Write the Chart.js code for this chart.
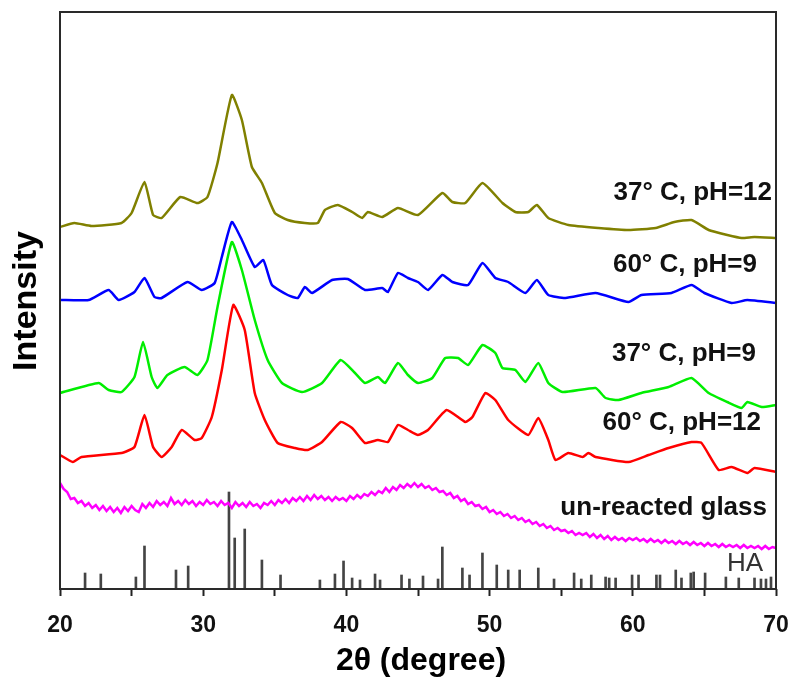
<!DOCTYPE html>
<html>
<head>
<meta charset="utf-8">
<script src="https://cdn.jsdelivr.net/npm/chart.js@4.4.1/dist/chart.umd.min.js"></script>
<style>
  html, body { margin: 0; padding: 0; background: #fff; }
  #wrap { width: 800px; height: 690px; }
</style>
</head>
<body>
<div id="wrap"><canvas id="xrd"></canvas></div>
<script>
// 2-theta positions and intensities (arbitrary units, offset stacks)
const olive37pH12Angle = [20, 21, 22.2, 24.3, 25, 25.9, 26.5, 27.1, 28.4, 29.6, 30.3, 31, 32, 32.7, 33.4, 34.1, 35, 35.9, 37.1, 38, 38.5, 39.4, 40.4, 41.1, 41.5, 42.5, 43.6, 45, 46.7, 47.4, 48.3, 49.5, 50.9, 51.8, 52.7, 53.3, 54.1, 55.5, 57.6, 59.7, 61.6, 62.9, 64.1, 65.3, 66.6, 67.6, 68.5, 70];
const olive37pH12 = [362, 366, 363, 366, 376, 407, 374, 371, 392, 386, 392, 426, 494, 469, 422, 406, 376, 369, 366, 366, 379, 384, 377, 371, 377, 372, 381, 374, 396, 387, 386, 406, 386, 377, 377, 384, 371, 364, 361, 359, 361, 367, 369, 359, 354, 351, 352, 351];

const blue60pH9Angle = [20, 22, 23.4, 24.1, 25.2, 25.9, 26.6, 27.1, 28.9, 29.9, 30.8, 31.3, 32, 32.7, 33.6, 34.2, 34.8, 35.9, 36.6, 37.1, 37.6, 39, 40.1, 41.3, 42.5, 42.9, 43.6, 44.3, 45, 45.7, 46.7, 47.4, 48.5, 49.5, 50.4, 51.3, 52.5, 53.3, 54.1, 55.3, 57.4, 59.7, 60.6, 62.7, 64.1, 65, 66.9, 68, 70];
const blue60pH9 = [289, 289, 299, 289, 297, 311, 292, 291, 307, 299, 306, 332, 367, 349, 322, 329, 304, 294, 291, 302, 296, 309, 310, 299, 301, 297, 316, 311, 307, 299, 314, 307, 304, 326, 311, 307, 296, 309, 294, 291, 296, 287, 294, 296, 304, 296, 286, 289, 286];

const green37pH9Angle = [20, 22.7, 23.4, 24.3, 25.2, 25.8, 26.4, 26.8, 27.5, 28.7, 29.6, 30.3, 31, 32, 32.7, 33.6, 34.5, 35.5, 36.9, 38.3, 39.6, 40.6, 41.3, 42.2, 42.7, 43.6, 44.3, 45, 46, 46.9, 47.8, 48.5, 49.5, 50.4, 50.9, 51.8, 52.5, 53.4, 54.1, 55.1, 57.4, 58.1, 59, 60.6, 62.5, 64.1, 65.3, 66.6, 67.6, 68, 69, 70];
const green37pH9 = [196, 206, 199, 197, 212, 247, 212, 201, 214, 222, 214, 229, 282, 347, 319, 269, 229, 206, 197, 206, 229, 216, 206, 212, 206, 226, 214, 206, 211, 231, 231, 224, 244, 236, 221, 219, 207, 226, 206, 197, 201, 191, 189, 196, 202, 211, 196, 187, 181, 187, 182, 184];

const red60pH12Angle = [20, 20.9, 21.5, 24.3, 25.2, 25.9, 26.5, 27.1, 27.8, 28.5, 29.4, 29.9, 30.6, 31.3, 32.1, 32.9, 33.6, 34.3, 35.2, 36.4, 37.3, 38.3, 39.6, 40.4, 41.3, 42.2, 42.9, 43.6, 44.3, 45, 45.7, 47, 48.3, 48.8, 49.7, 50.4, 51.3, 52.7, 53.4, 54.1, 54.6, 55.5, 56.5, 56.9, 57.4, 59.7, 61.1, 62.5, 64.1, 64.8, 66, 66.9, 68, 68.5, 70];
const red60pH12 = [134, 127, 132, 136, 142, 174, 142, 132, 142, 159, 149, 151, 172, 219, 284, 259, 196, 169, 146, 141, 139, 147, 167, 161, 146, 149, 147, 164, 159, 154, 159, 179, 167, 172, 196, 189, 169, 154, 171, 149, 129, 136, 132, 136, 132, 127, 134, 141, 147, 146, 119, 122, 116, 121, 117];

// un-reacted glass: scan every 0.25 degree from 20 to 70
const glassStart = 20;
const glassStep = 0.25;
const glass = [106, 100, 97, 90, 91, 86, 88, 83, 86, 81, 84, 79, 83, 78, 82, 77, 81, 76, 82, 78,
  83, 79, 77, 85, 81, 86, 82, 88, 84, 87, 83, 91, 85, 88, 84, 89, 85, 88, 83, 87,
  84, 89, 85, 87, 83, 88, 84, 86, 81, 87, 83, 86, 82, 87, 83, 85, 81, 86, 84, 88,
  84, 89, 86, 90, 86, 91, 88, 92, 88, 93, 89, 94, 90, 93, 89, 92, 88, 92, 89, 91,
  88, 93, 90, 94, 91, 95, 93, 97, 94, 98, 96, 101, 97, 102, 99, 104, 101, 105, 102, 106,
  102, 105, 101, 103, 99, 101, 97, 98, 94, 96, 91, 93, 88, 90, 85, 87, 83, 84, 80, 82,
  77, 79, 75, 77, 73, 75, 71, 73, 69, 71, 67, 69, 65, 67, 63, 65, 61, 63, 59, 61,
  58, 59, 56, 58, 54, 56, 54, 56, 52, 55, 51, 54, 50, 53, 49, 52, 49, 51, 48, 51,
  49, 51, 48, 50, 47, 50, 47, 49, 46, 49, 46, 48, 45, 48, 45, 47, 44, 47, 44, 46,
  43, 46, 43, 45, 42, 45, 42, 44, 42, 44, 41, 44, 41, 43, 41, 43, 40, 43, 40, 42, 41];

// HA reference pattern (stick positions and relative heights)
const haAngle = [21.75, 22.85, 25.3, 25.9, 28.1, 28.95, 31.8, 32.2, 32.9, 34.1, 35.4, 38.15, 39.2, 39.8, 40.4, 40.95, 42.0, 42.35, 43.85, 44.4, 45.35, 46.4, 46.7, 48.1, 48.6, 49.5, 50.5, 51.3, 52.1, 53.4, 54.5, 55.9, 56.4, 57.1, 58.1, 58.35, 58.8, 59.95, 60.4, 61.65, 61.9, 63.0, 63.4, 64.05, 64.25, 65.05, 66.5, 67.4, 68.5, 68.95, 69.3, 69.65];
const haHeight = [16, 15, 12, 43, 19, 23, 97, 51, 60, 29, 14, 9, 15, 28, 11, 9, 15, 9, 14, 10, 13, 10, 42, 21, 14, 36, 24, 19, 19, 21, 10, 16, 10, 14, 12, 11, 11, 14, 14, 14, 14, 19, 11, 16, 17, 16, 12, 11, 11, 10, 10, 12];

const seriesNames = ['37° C, pH=12', '60° C, pH=9', '37° C, pH=9', '60° C, pH=12', 'un-reacted glass', 'HA'];
const seriesColors = ['#808000', '#0000ff', '#00ee00', '#ff0000', '#ff00ff', '#444444'];

const pairs = (xs, ys) => xs.map((x, i) => ({ x: x, y: ys[i] }));
const glassData = glass.map((y, i) => ({ x: glassStart + i * glassStep, y: y }));

function curve(label, data, color, width) {
    return {
        type: 'line',
        label: label,
        data: data,
        borderColor: color,
        borderWidth: width,
        borderJoinStyle: 'round',
        pointRadius: 0,
        tension: 0.15,
        fill: false
    };
}

const FONT = "'Liberation Sans', Arial, sans-serif";

const labelPlugin = {
    id: 'xrdLabels',
    afterDraw(chart) {
        const { ctx, chartArea: a } = chart;
        ctx.save();
        // frame
        ctx.strokeStyle = '#2a2a2a';
        ctx.lineWidth = 2;
        ctx.strokeRect(a.left, a.top, a.right - a.left, a.bottom - a.top);

        // right-aligned labels next to each trace: [text, right x, baseline y, bold]
        const spots = [
            [seriesNames[0], 772, 200, true],
            [seriesNames[1], 757, 272, true],
            [seriesNames[2], 756, 361, true],
            [seriesNames[3], 761, 430, true],
            [seriesNames[4], 767, 515, true],
            [seriesNames[5], 763, 571, false]
        ];
        ctx.textAlign = 'right';
        ctx.textBaseline = 'alphabetic';
        spots.forEach(([t, x, y, bold]) => {
            ctx.font = (bold ? 'bold 26px ' : '26px ') + FONT;
            ctx.fillStyle = bold ? '#111' : '#333';
            ctx.fillText(t, x, y);
        });

        // axis titles
        ctx.fillStyle = '#000';
        ctx.font = 'bold 32px ' + FONT;
        ctx.textAlign = 'center';
        ctx.textBaseline = 'middle';
        ctx.fillText('2θ (degree)', 421, 661);
        ctx.font = 'bold 34px ' + FONT;
        ctx.translate(27, 301);
        ctx.rotate(-Math.PI / 2);
        ctx.fillText('Intensity', 0, 0);
        ctx.restore();
    }
};

new Chart(document.getElementById('xrd'), {
    type: 'line',
    data: {
        datasets: [
            curve(seriesNames[0], pairs(olive37pH12Angle, olive37pH12), seriesColors[0], 2.5),
            curve(seriesNames[1], pairs(blue60pH9Angle, blue60pH9), seriesColors[1], 2.5),
            curve(seriesNames[2], pairs(green37pH9Angle, green37pH9), seriesColors[2], 2.5),
            curve(seriesNames[3], pairs(red60pH12Angle, red60pH12), seriesColors[3], 2.5),
            {
                type: 'line',
                label: seriesNames[4],
                data: glassData,
                borderColor: seriesColors[4],
                borderWidth: 2.5,
                pointRadius: 0,
                tension: 0,
                fill: false
            },
            {
                type: 'bar',
                label: seriesNames[5],
                data: pairs(haAngle, haHeight),
                backgroundColor: seriesColors[5],
                barThickness: 2,
                grouped: false
            }
        ]
    },
    options: {
        responsive: true,
        maintainAspectRatio: false,
        animation: false,
        layout: { padding: { left: 60, right: 24, top: 12, bottom: 0 } },
        plugins: {
            legend: { display: false },
            tooltip: { enabled: false }
        },
        scales: {
            x: {
                type: 'linear',
                min: 20,
                max: 70,
                offset: false,
                afterFit: s => {
                    s.height = 101;
                    s.paddingLeft = 0;
                    s.paddingRight = 0;
                },
                border: { display: false },
                grid: {
                    offset: false,
                    drawOnChartArea: false,
                    drawTicks: true,
                    tickLength: 7,
                    tickWidth: 2,
                    tickColor: '#222'
                },
                ticks: {
                    stepSize: 5,
                    padding: 16,
                    color: '#111',
                    font: { family: FONT, size: 23, weight: 'bold' },
                    callback: v => (v % 10 === 0 ? v : '')
                }
            },
            y: {
                display: false,
                min: 0,
                max: 577
            }
        }
    },
    plugins: [labelPlugin]
});
</script>
</body>
</html>
